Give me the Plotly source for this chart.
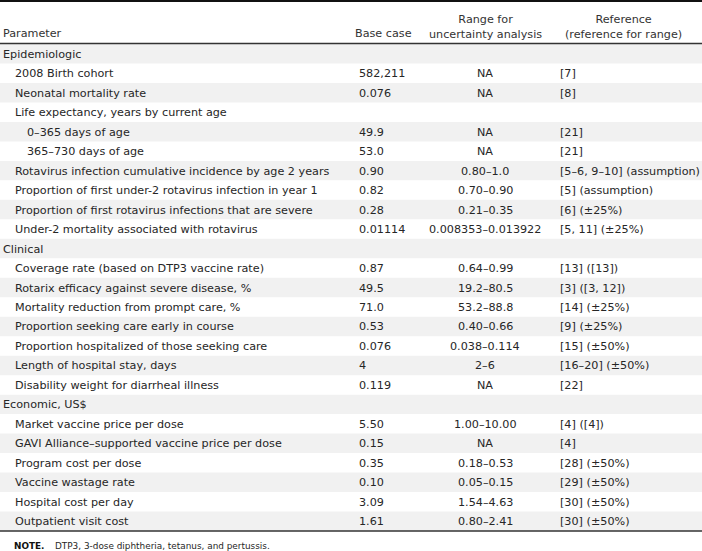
import plotly.graph_objects as go

# ---- data ----
parameters = [
    "Epidemiologic", "2008 Birth cohort", "Neonatal mortality rate",
    "Life expectancy, years by current age", "0–365 days of age", "365–730 days of age",
    "Rotavirus infection cumulative incidence by age 2 years",
    "Proportion of first under-2 rotavirus infection in year 1",
    "Proportion of first rotavirus infections that are severe",
    "Under-2 mortality associated with rotavirus",
    "Clinical", "Coverage rate (based on DTP3 vaccine rate)",
    "Rotarix efficacy against severe disease, %", "Mortality reduction from prompt care, %",
    "Proportion seeking care early in course", "Proportion hospitalized of those seeking care",
    "Length of hospital stay, days", "Disability weight for diarrheal illness",
    "Economic, US$", "Market vaccine price per dose",
    "GAVI Alliance–supported vaccine price per dose", "Program cost per dose",
    "Vaccine wastage rate", "Hospital cost per day", "Outpatient visit cost",
]
levels = [0, 1, 1, 1, 2, 2, 1, 1, 1, 1,
          0, 1, 1, 1, 1, 1, 1, 1,
          0, 1, 1, 1, 1, 1, 1]
base_case = ["", "582,211", "0.076", "", "49.9", "53.0", "0.90", "0.82", "0.28", "0.01114",
             "", "0.87", "49.5", "71.0", "0.53", "0.076", "4", "0.119",
             "", "5.50", "0.15", "0.35", "0.10", "3.09", "1.61"]
ranges = ["", "NA", "NA", "", "NA", "NA", "0.80–1.0", "0.70–0.90", "0.21–0.35",
          "0.008353–0.013922",
          "", "0.64–0.99", "19.2–80.5", "53.2–88.8", "0.40–0.66", "0.038–0.114", "2–6", "NA",
          "", "1.00–10.00", "NA", "0.18–0.53", "0.05–0.15", "1.54–4.63", "0.80–2.41"]
references = ["", "[7]", "[8]", "", "[21]", "[21]", "[5–6, 9–10] (assumption)",
              "[5] (assumption)", "[6] (±25%)", "[5, 11] (±25%)",
              "", "[13] ([13])", "[3] ([3, 12])", "[14] (±25%)", "[9] (±25%)",
              "[15] (±50%)", "[16–20] (±50%)", "[22]",
              "", "[4] ([4])", "[4]", "[28] (±50%)", "[29] (±50%)", "[30] (±50%)", "[30] (±50%)"]
headers = ["Parameter", "Base case", "Range for<br>uncertainty analysis",
           "Reference<br>(reference for range)"]
note_label = "NOTE."
note_text = "DTP3, 3-dose diphtheria, tetanus, and pertussis."

# ---- layout constants ----
W, H = 702, 551
FONT = "DejaVu Sans, Verdana, sans-serif"
FS = 11.2
TXT = "#262626"
HDR = "#333333"
top_rows = 44.0
row_h = 19.48
indent_x = [1, 13, 25]
col_base_x = 357
col_range_x = 485
col_ref_x = 558

fig = go.Figure()
fig.add_trace(go.Scatter(x=[0, W], y=[0, H], mode="markers",
                         marker=dict(opacity=0), hoverinfo="skip", showlegend=False))

shapes = []
annotations = []
for i, p in enumerate(parameters):
    y0 = top_rows + row_h * i
    yc = y0 + row_h / 2 + 0.5
    if i % 2 == 0:
        shapes.append(dict(type="rect", xref="paper", yref="y", x0=0, x1=1,
                           y0=y0, y1=y0 + row_h, fillcolor="#f1f1f1",
                           line=dict(width=0), layer="below"))
    annotations.append(dict(x=indent_x[levels[i]], y=yc, text=p, xanchor="left",
                            yanchor="middle", font=dict(family=FONT, size=FS, color=TXT)))
    if base_case[i]:
        annotations.append(dict(x=col_base_x, y=yc, text=base_case[i], xanchor="left",
                                yanchor="middle", font=dict(family=FONT, size=FS, color=TXT)))
    if ranges[i]:
        annotations.append(dict(x=col_range_x, y=yc, text=ranges[i], xanchor="center",
                                yanchor="middle", font=dict(family=FONT, size=FS, color=TXT)))
    if references[i]:
        annotations.append(dict(x=col_ref_x, y=yc, text=references[i], xanchor="left",
                                yanchor="middle", font=dict(family=FONT, size=FS, color=TXT)))

# header
hfont = dict(family=FONT, size=FS, color=HDR)
annotations.append(dict(x=1, y=33, text=headers[0], xanchor="left", yanchor="middle", font=hfont))
annotations.append(dict(x=353, y=33, text=headers[1], xanchor="left", yanchor="middle", font=hfont))
annotations.append(dict(x=col_range_x, y=26.5, text=headers[2], xanchor="center",
                        yanchor="middle", align="center", font=hfont))
annotations.append(dict(x=623, y=26.5, text=headers[3], xanchor="center",
                        yanchor="middle", align="center", font=hfont))

annotations.append(dict(x=12, y=546, text="<b>" + note_label + "</b>",
                        xanchor="left", yanchor="middle",
                        font=dict(family=FONT, size=8.9, color="#111111")))
annotations.append(dict(x=53, y=546, text=note_text,
                        xanchor="left", yanchor="middle",
                        font=dict(family=FONT, size=8.9, color=TXT)))

for a in annotations:
    a.update(xref="x", yref="y", showarrow=False)

bottom = top_rows + row_h * len(parameters)
shapes.append(dict(type="line", xref="paper", yref="y", x0=0, x1=1, y0=1, y1=1,
                   line=dict(color="#111111", width=2)))
shapes.append(dict(type="line", xref="paper", yref="y", x0=0, x1=1, y0=top_rows - 0.5,
                   y1=top_rows - 0.5, line=dict(color="#333333", width=1.3)))
shapes.append(dict(type="line", xref="paper", yref="y", x0=0, x1=1, y0=bottom,
                   y1=bottom, line=dict(color="#333333", width=1.3)))

fig.update_layout(
    width=W, height=H, margin=dict(l=0, r=0, t=0, b=0),
    paper_bgcolor="white", plot_bgcolor="white",
    xaxis=dict(range=[0, W], visible=False, fixedrange=True),
    yaxis=dict(range=[H, 0], visible=False, fixedrange=True),
    shapes=shapes, annotations=annotations, showlegend=False,
)
fig.write_html("out.html", config={"displayModeBar": False},
               post_script="document.body.style.margin='0';document.body.style.overflow='hidden';")
